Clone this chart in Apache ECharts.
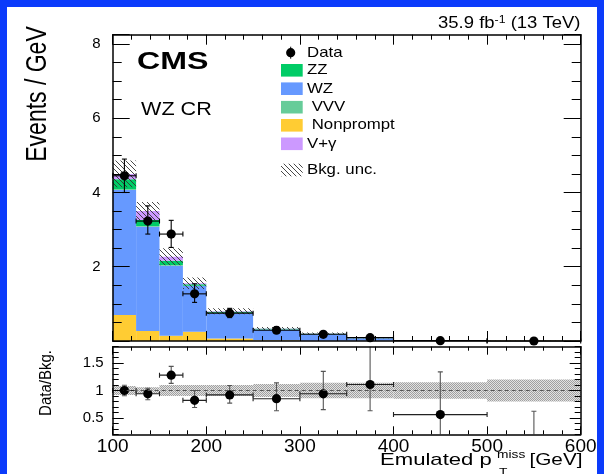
<!DOCTYPE html>
<html>
<head>
<meta charset="utf-8">
<script src="https://cdn.jsdelivr.net/npm/echarts@6.0.0/dist/echarts.min.js"></script>
<style>
html,body{margin:0;padding:0;background:#0b3bfb;}
#chart{width:604px;height:474px;}
</style>
</head>
<body>
<div id="chart"></div>
<script>
// ---------------- data ----------------
const binLo = [100, 125, 150, 175, 200, 250, 300, 350, 400, 500];
const binHi = [125, 150, 175, 200, 250, 300, 350, 400, 500, 600];

// stacked backgrounds (events / GeV), bottom to top
const nonprompt = [0.70, 0.27, 0.14, 0.25, 0.07, 0.02, 0.010, 0.005, 0.002, 0.006];
const wz        = [3.37, 2.81, 1.89, 1.23, 0.68, 0.29, 0.170, 0.070, 0.013, 0.003];
const vvv       = [0.02, 0.02, 0.02, 0.01, 0.01, 0.006, 0.005, 0.003, 0.001, 0.001];
const zz        = [0.27, 0.16, 0.11, 0.04, 0.03, 0.015, 0.010, 0.005, 0.002, 0.000];
const vgamma    = [0.14, 0.24, 0.11, 0.025, 0.01, 0.005, 0.005, 0.002, 0.000, 0.000];
const bkgRelUnc = [0.08, 0.07, 0.10, 0.10, 0.10, 0.12, 0.13, 0.13, 0.15, 0.20];

// observed data
const dataVal   = [4.45, 3.23, 2.88, 1.27, 0.75, 0.29, 0.18, 0.09, 0.01, 0.0];
const dataErrUp = [0.45, 0.41, 0.37, 0.27, 0.13, 0.09, 0.07, 0.05, 0.02, 0.018];
const dataErrDn = [0.45, 0.35, 0.36, 0.23, 0.12, 0.08, 0.06, 0.04, 0.01, 0.0];

// ratio panel
const ratio      = [1.00, 0.94, 1.28, 0.82, 0.92, 0.85, 0.94, 1.11, 0.56, 0.0];
const ratioErrUp = [0.095, 0.10, 0.16, 0.18, 0.17, 0.29, 0.41, 0.75, 0.78, 0.62];
const ratioErrDn = [0.095, 0.11, 0.15, 0.13, 0.15, 0.22, 0.29, 0.48, 0.56, 0.0];
const ratioUnc   = [0.08, 0.06, 0.10, 0.10, 0.10, 0.12, 0.14, 0.14, 0.15, 0.20];

const mainYTicks = [2, 4, 6, 8];
const ratioYTicks = [0.5, 1, 1.5];

const legendNames = ['Data', 'ZZ', 'WZ', ' VVV', ' Nonprompt', 'V+\u03b3', 'Bkg. unc.'];

// ---------------- styles ----------------
const FONT = '"Liberation Sans", Arial, Helvetica, sans-serif';
const colNP = '#ffcc33', colWZ = '#6699ff', colVVV = '#66cc99', colZZ = '#00cc66', colVG = '#cc99ff';

function hatchPattern() {
  const s = 5;
  const c = document.createElement('canvas'); c.width = s; c.height = s;
  const ctx = c.getContext('2d');
  ctx.strokeStyle = '#333'; ctx.lineWidth = 0.9;
  for (const k of [-s, 0, s]) { ctx.beginPath(); ctx.moveTo(k, 0); ctx.lineTo(k + s, s); ctx.stroke(); }
  return { image: c, repeat: 'repeat' };
}
function stipplePattern() {
  const c = document.createElement('canvas'); c.width = 2; c.height = 2;
  const ctx = c.getContext('2d');
  ctx.fillStyle = '#e2e2e2'; ctx.fillRect(0, 0, 2, 2);
  ctx.fillStyle = '#a0a0a0'; ctx.fillRect(0, 0, 1, 1); ctx.fillRect(1, 1, 1, 1);
  return { image: c, repeat: 'repeat' };
}
const HATCH = hatchPattern();
const STIPPLE = stipplePattern();

// ---------------- build series ----------------
const comps = [
  { name: ' Nonprompt', vals: nonprompt, color: colNP },
  { name: 'WZ', vals: wz, color: colWZ },
  { name: ' VVV', vals: vvv, color: colVVV },
  { name: 'ZZ', vals: zz, color: colZZ },
  { name: 'V+\u03b3', vals: vgamma, color: colVG }
];
const cum = binLo.map(() => 0);
const series = [];

function rectRender(fill) {
  return function (params, api) {
    const a = api.coord([api.value(0), api.value(3)]);
    const b = api.coord([api.value(1), api.value(2)]);
    return { type: 'rect', shape: { x: a[0], y: a[1], width: b[0] - a[0], height: b[1] - a[1] }, style: { fill: fill } };
  };
}

comps.forEach(c => {
  const rows = binLo.map((lo, i) => {
    const base = cum[i];
    cum[i] += c.vals[i];
    return [lo, binHi[i], base, cum[i]];
  });
  series.push({
    type: 'custom', name: c.name, xAxisIndex: 0, yAxisIndex: 0, clip: true,
    encode: { x: [0, 1], y: [2, 3] }, renderItem: rectRender(c.color), data: rows, silent: true
  });
});
const total = cum.slice();

// hatch uncertainty band
series.push({
  type: 'custom', name: 'Bkg. unc.', xAxisIndex: 0, yAxisIndex: 0, clip: true,
  encode: { x: [0, 1], y: [2, 3] }, renderItem: rectRender(HATCH), silent: true,
  data: binLo.map((lo, i) => [lo, binHi[i], total[i] * (1 - bkgRelUnc[i]), total[i] * (1 + bkgRelUnc[i])])
});

function errRender(color, vColor) {
  return function (params, api) {
    const lo = api.value(0), hi = api.value(1), y = api.value(2), up = api.value(3), dn = api.value(4);
    const xc = (lo + hi) / 2;
    const pL = api.coord([lo, y]), pR = api.coord([hi, y]);
    const pT = api.coord([xc, y + up]), pB = api.coord([xc, y - dn]), pC = api.coord([xc, y]);
    const st = { stroke: color, lineWidth: 1.1 };
    const sv = { stroke: vColor, lineWidth: 1.1 };
    const cap = 2.5;
    const ch = [
      { type: 'line', shape: { x1: pL[0], y1: pL[1], x2: pR[0], y2: pR[1] }, style: st },
      { type: 'line', shape: { x1: pL[0], y1: pL[1] - cap, x2: pL[0], y2: pL[1] + cap }, style: st },
      { type: 'line', shape: { x1: pR[0], y1: pR[1] - cap, x2: pR[0], y2: pR[1] + cap }, style: st },
      { type: 'line', shape: { x1: pT[0], y1: pT[1], x2: pB[0], y2: pB[1] }, style: sv }
    ];
    if (up > 0) ch.push({ type: 'line', shape: { x1: pT[0] - cap, y1: pT[1], x2: pT[0] + cap, y2: pT[1] }, style: sv });
    if (dn > 0) ch.push({ type: 'line', shape: { x1: pB[0] - cap, y1: pB[1], x2: pB[0] + cap, y2: pB[1] }, style: sv });
    ch.push({ type: 'circle', shape: { cx: pC[0], cy: pC[1], r: 4.6 }, style: { fill: '#000' } });
    return { type: 'group', children: ch };
  };
}

series.push({
  type: 'custom', name: 'Data', xAxisIndex: 0, yAxisIndex: 0, clip: false, silent: true,
  encode: { x: [0, 1], y: 2 }, renderItem: errRender('#000', '#000'),
  data: binLo.map((lo, i) => [lo, binHi[i], dataVal[i], dataErrUp[i], dataErrDn[i]])
});

// ratio band
series.push({
  type: 'custom', name: 'ratioBand', xAxisIndex: 2, yAxisIndex: 2, clip: true, silent: true,
  encode: { x: [0, 1], y: [2, 3] }, renderItem: rectRender(STIPPLE),
  data: binLo.map((lo, i) => [lo, binHi[i], 1 - ratioUnc[i], 1 + ratioUnc[i]])
});
series.push({
  type: 'line', name: 'unity', xAxisIndex: 2, yAxisIndex: 2, silent: true, symbol: 'none',
  lineStyle: { color: '#555', width: 1, type: [4, 3] },
  data: [[binLo[0], 1], [binHi[binHi.length - 1], 1]]
});
series.push({
  type: 'custom', name: 'ratioPts', xAxisIndex: 2, yAxisIndex: 2, clip: true, silent: true,
  encode: { x: [0, 1], y: 2 }, renderItem: errRender('#222', '#555'),
  data: binLo.map((lo, i) => [lo, binHi[i], ratio[i], ratioErrUp[i], ratioErrDn[i]])
});

// ---------------- axes ----------------
const frameLine = { show: true, onZero: false, lineStyle: { color: '#000', width: 1.5 } };
function xAx(grid, pos, major, minor, labels) {
  return {
    type: 'value', gridIndex: grid, position: pos, min: 100, max: 600, interval: 100, z: 10,
    axisLine: frameLine,
    axisTick: { show: true, inside: true, length: major, lineStyle: { color: '#000', width: 1 } },
    minorTick: { show: true, splitNumber: 5, length: minor, lineStyle: { color: '#000', width: 1 } },
    splitLine: { show: false }, minorSplitLine: { show: false },
    axisLabel: labels ? { show: true, fontSize: 19, fontFamily: FONT, color: '#000', margin: 3 } : { show: false }
  };
}
function mainY(pos, labels) {
  return {
    type: 'value', gridIndex: 0, position: pos, min: 0, max: 8.25, interval: 2, z: 10,
    axisLine: frameLine,
    axisTick: { show: true, inside: true, length: 17, lineStyle: { color: '#000', width: 1 } },
    minorTick: { show: true, splitNumber: 4, length: 9, lineStyle: { color: '#000', width: 1 } },
    splitLine: { show: false }, minorSplitLine: { show: false },
    axisLabel: labels ? {
      show: true, fontSize: 15, fontFamily: FONT, color: '#000', margin: 12,
      customValues: mainYTicks
    } : { show: false }
  };
}
function ratioYMajor(pos, labels) {
  return {
    type: 'value', gridIndex: 1, position: pos, min: 0.2, max: 1.8, z: 10,
    axisLine: frameLine,
    axisTick: { show: true, inside: true, length: 11, customValues: ratioYTicks, lineStyle: { color: '#000', width: 1 } },
    splitLine: { show: false },
    axisLabel: labels ? {
      show: true, fontSize: 15, fontFamily: FONT, color: '#000', margin: 9, customValues: ratioYTicks
    } : { show: false }
  };
}
function ratioYMinor(pos) {
  return {
    type: 'value', gridIndex: 1, position: pos, min: 0.2, max: 1.8, interval: 0.1, z: 10,
    axisLine: { show: false },
    axisTick: { show: true, inside: true, length: 6, lineStyle: { color: '#000', width: 1 } },
    splitLine: { show: false }, axisLabel: { show: false }
  };
}

// ---------------- graphics (background, texts, legend) ----------------
const graphics = [
  { type: 'rect', z: -10, shape: { x: 7, y: 7, width: 590, height: 480 }, style: { fill: '#fff' } },
  { type: 'text', z: 100, x: 137, y: 62.5, scaleX: 1.34,
    style: { text: 'CMS', fontSize: 24, fontWeight: 'bold', fontFamily: FONT, fill: '#000', align: 'left', verticalAlign: 'middle' } },
  { type: 'text', z: 100, x: 141, y: 110, scaleX: 1.2,
    style: { text: 'WZ CR', fontSize: 18, fontFamily: FONT, fill: '#000', align: 'left', verticalAlign: 'middle' } },
  { type: 'text', z: 100, x: 580.5, y: 23, scaleX: 1.12,
    style: { text: '35.9 fb{s|-1} (13 TeV)', fontSize: 16.5, lineHeight: 18, fontFamily: FONT, fill: '#000', align: 'right', verticalAlign: 'middle',
      rich: { s: { fontSize: 11, fontFamily: FONT, fill: '#000', verticalAlign: 'top', lineHeight: 18 } } } },
  { type: 'text', z: 100, x: 38, y: 94, rotation: Math.PI / 2, scaleY: 1.25,
    style: { text: 'Events / GeV', fontSize: 23, fontFamily: FONT, fill: '#000', align: 'center', verticalAlign: 'middle' } },
  { type: 'text', z: 100, x: 46, y: 383, rotation: Math.PI / 2, scaleY: 1.15,
    style: { text: 'Data/Bkg.', fontSize: 15, fontFamily: FONT, fill: '#000', align: 'center', verticalAlign: 'middle' } },
  { type: 'text', z: 100, x: 380, y: 460.5, scaleX: 1.3,
    style: { text: 'Emulated p', fontSize: 17, fontFamily: FONT, fill: '#000', align: 'left', verticalAlign: 'middle' } },
  { type: 'text', z: 100, x: 497, y: 454.5, scaleX: 1.25,
    style: { text: 'miss', fontSize: 11, fontFamily: FONT, fill: '#000', align: 'left', verticalAlign: 'middle' } },
  { type: 'text', z: 100, x: 499, y: 473, scaleX: 1.25,
    style: { text: 'T', fontSize: 11, fontFamily: FONT, fill: '#000', align: 'left', verticalAlign: 'middle' } },
  { type: 'text', z: 100, x: 582.5, y: 460.5, scaleX: 1.22,
    style: { text: '[GeV]', fontSize: 17, fontFamily: FONT, fill: '#000', align: 'right', verticalAlign: 'middle' } }
];

// legend
const legRows = [52.7, 70.3, 88.7, 107.2, 125.3, 143.8, 170];
const legFills = [null, colZZ, colWZ, colVVV, colNP, colVG, HATCH];
legendNames.forEach((nm, i) => {
  const yc = legRows[i];
  if (i === 0) {
    graphics.push({ type: 'line', z: 100, shape: { x1: 290.7, y1: yc - 6, x2: 290.7, y2: yc + 6 }, style: { stroke: '#000', lineWidth: 1 } });
    graphics.push({ type: 'circle', z: 100, shape: { cx: 290.7, cy: yc, r: 4.6 }, style: { fill: '#000' } });
  } else {
    graphics.push({ type: 'rect', z: 100, shape: { x: 281, y: yc - 6.3, width: 21.7, height: 12.6 }, style: { fill: legFills[i] } });
  }
  graphics.push({ type: 'text', z: 100, x: 307, y: yc, scaleX: 1.12,
    style: { text: nm, fontSize: 15, fontFamily: FONT, fill: '#000', align: 'left', verticalAlign: 'middle' } });
});

const option = {
  backgroundColor: '#0b3bfb',
  animation: false,
  grid: [
    { left: 112.7, top: 34.7, width: 468, height: 306.3, containLabel: false, outerBoundsMode: 'none' },
    { left: 112.7, top: 346.7, width: 468, height: 87.6, containLabel: false, outerBoundsMode: 'none' }
  ],
  xAxis: [
    xAx(0, 'bottom', 10, 5, false),
    xAx(0, 'top', 10, 5, false),
    xAx(1, 'bottom', 8, 4, true),
    xAx(1, 'top', 8, 4, false)
  ],
  yAxis: [
    mainY('left', true),
    mainY('right', false),
    ratioYMajor('left', true),
    ratioYMinor('left'),
    ratioYMajor('right', false),
    ratioYMinor('right')
  ],
  graphic: graphics,
  series: series
};

const chart = echarts.init(document.getElementById('chart'), null, { renderer: 'canvas' });
chart.setOption(option);
</script>
</body>
</html>
